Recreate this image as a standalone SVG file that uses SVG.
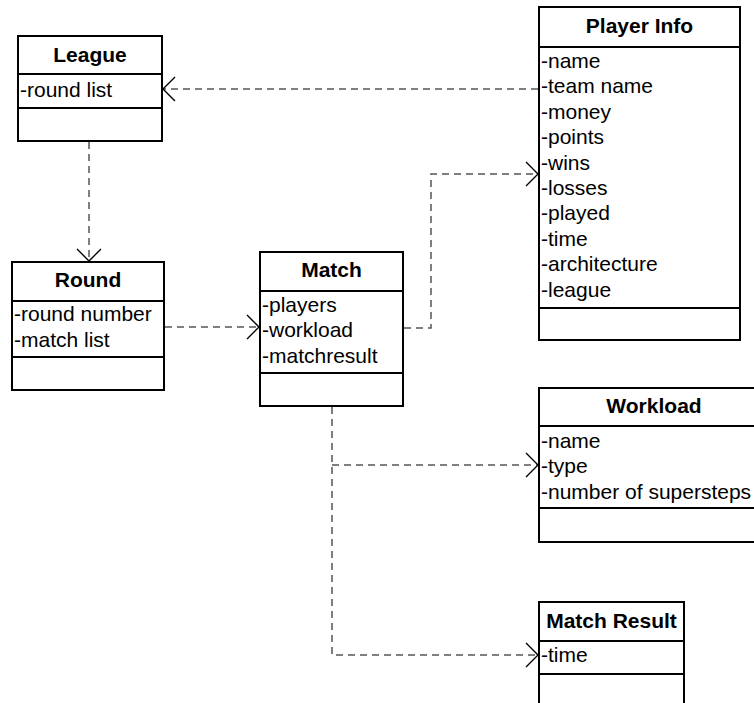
<svg xmlns="http://www.w3.org/2000/svg" width="754" height="703" viewBox="0 0 754 703">
  <style>
    .box { fill: #ffffff; stroke: #000000; stroke-width: 2; }
    .sep { stroke: #000000; stroke-width: 2; }
    .title { font-family: "Liberation Sans", Arial, sans-serif; font-size: 21px; font-weight: bold; text-anchor: middle; fill: #000000; }
    .attr { font-family: "Liberation Sans", Arial, sans-serif; font-size: 21px; fill: #000000; }
    .dep { fill: none; stroke: #555555; stroke-width: 1.5; stroke-dasharray: 7 5; }
  </style>
  <defs>
    <marker id="open" viewBox="-14 -14 16 28" markerWidth="16" markerHeight="28" refX="0" refY="0" orient="auto" markerUnits="userSpaceOnUse">
      <path d="M -12 -12 L 0 0 L -12 12" fill="none" stroke="#000000" stroke-width="1.4"/>
    </marker>
  </defs>

  <rect width="754" height="703" fill="#ffffff"/>

  <!-- class boxes -->
  <g id="league">
    <rect class="box" x="18" y="36" width="144" height="105"/>
    <line class="sep" x1="18" y1="74" x2="162" y2="74"/>
    <line class="sep" x1="18" y1="108" x2="162" y2="108"/>
    <text class="title" x="90" y="62">League</text>
    <text class="attr" x="20" y="97">-round list</text>
  </g>

  <g id="round">
    <rect class="box" x="12" y="262" width="152" height="128"/>
    <line class="sep" x1="12" y1="301" x2="164" y2="301"/>
    <line class="sep" x1="12" y1="357" x2="164" y2="357"/>
    <text class="title" x="88" y="287">Round</text>
    <text class="attr" x="14" y="321">-round number</text>
    <text class="attr" x="14" y="347">-match list</text>
  </g>

  <g id="match">
    <rect class="box" x="260" y="252" width="143" height="154"/>
    <line class="sep" x1="260" y1="291" x2="403" y2="291"/>
    <line class="sep" x1="260" y1="373" x2="403" y2="373"/>
    <text class="title" x="331.5" y="277">Match</text>
    <text class="attr" x="262" y="312">-players</text>
    <text class="attr" x="262" y="337">-workload</text>
    <text class="attr" x="262" y="363">-matchresult</text>
  </g>

  <g id="player-info">
    <rect class="box" x="539" y="7" width="201" height="333"/>
    <line class="sep" x1="539" y1="47" x2="740" y2="47"/>
    <line class="sep" x1="539" y1="308" x2="740" y2="308"/>
    <text class="title" x="639.5" y="33">Player Info</text>
    <text class="attr" x="541" y="68">-name</text>
    <text class="attr" x="541" y="93.4">-team name</text>
    <text class="attr" x="541" y="118.8">-money</text>
    <text class="attr" x="541" y="144.2">-points</text>
    <text class="attr" x="541" y="169.6">-wins</text>
    <text class="attr" x="541" y="195">-losses</text>
    <text class="attr" x="541" y="220.4">-played</text>
    <text class="attr" x="541" y="245.8">-time</text>
    <text class="attr" x="541" y="271.2">-architecture</text>
    <text class="attr" x="541" y="296.6">-league</text>
  </g>

  <g id="workload">
    <rect class="box" x="539" y="388" width="231" height="154"/>
    <line class="sep" x1="539" y1="426" x2="770" y2="426"/>
    <line class="sep" x1="539" y1="508" x2="770" y2="508"/>
    <text class="title" x="654" y="413">Workload</text>
    <text class="attr" x="541" y="448">-name</text>
    <text class="attr" x="541" y="473">-type</text>
    <text class="attr" x="541" y="499">-number of supersteps</text>
  </g>

  <g id="match-result">
    <rect class="box" x="539" y="602" width="145" height="120"/>
    <line class="sep" x1="539" y1="641" x2="684" y2="641"/>
    <line class="sep" x1="539" y1="674" x2="684" y2="674"/>
    <text class="title" x="611.5" y="628">Match Result</text>
    <text class="attr" x="541" y="662">-time</text>
  </g>

  <!-- dependency connectors -->
  <g id="connectors">
    <path class="dep" d="M 538 89 L 163 89" marker-end="url(#open)"/>
    <path class="dep" d="M 89 142 L 89 261" marker-end="url(#open)"/>
    <path class="dep" d="M 165 327 L 259 327" marker-end="url(#open)"/>
    <path class="dep" d="M 404 328 L 431 328 L 431 174 L 538 174" marker-end="url(#open)"/>
    <path class="dep" d="M 332 407 L 332 655 L 538 655" marker-end="url(#open)"/>
    <path class="dep" d="M 332 465 L 538 465" marker-end="url(#open)"/>
  </g>
</svg>
